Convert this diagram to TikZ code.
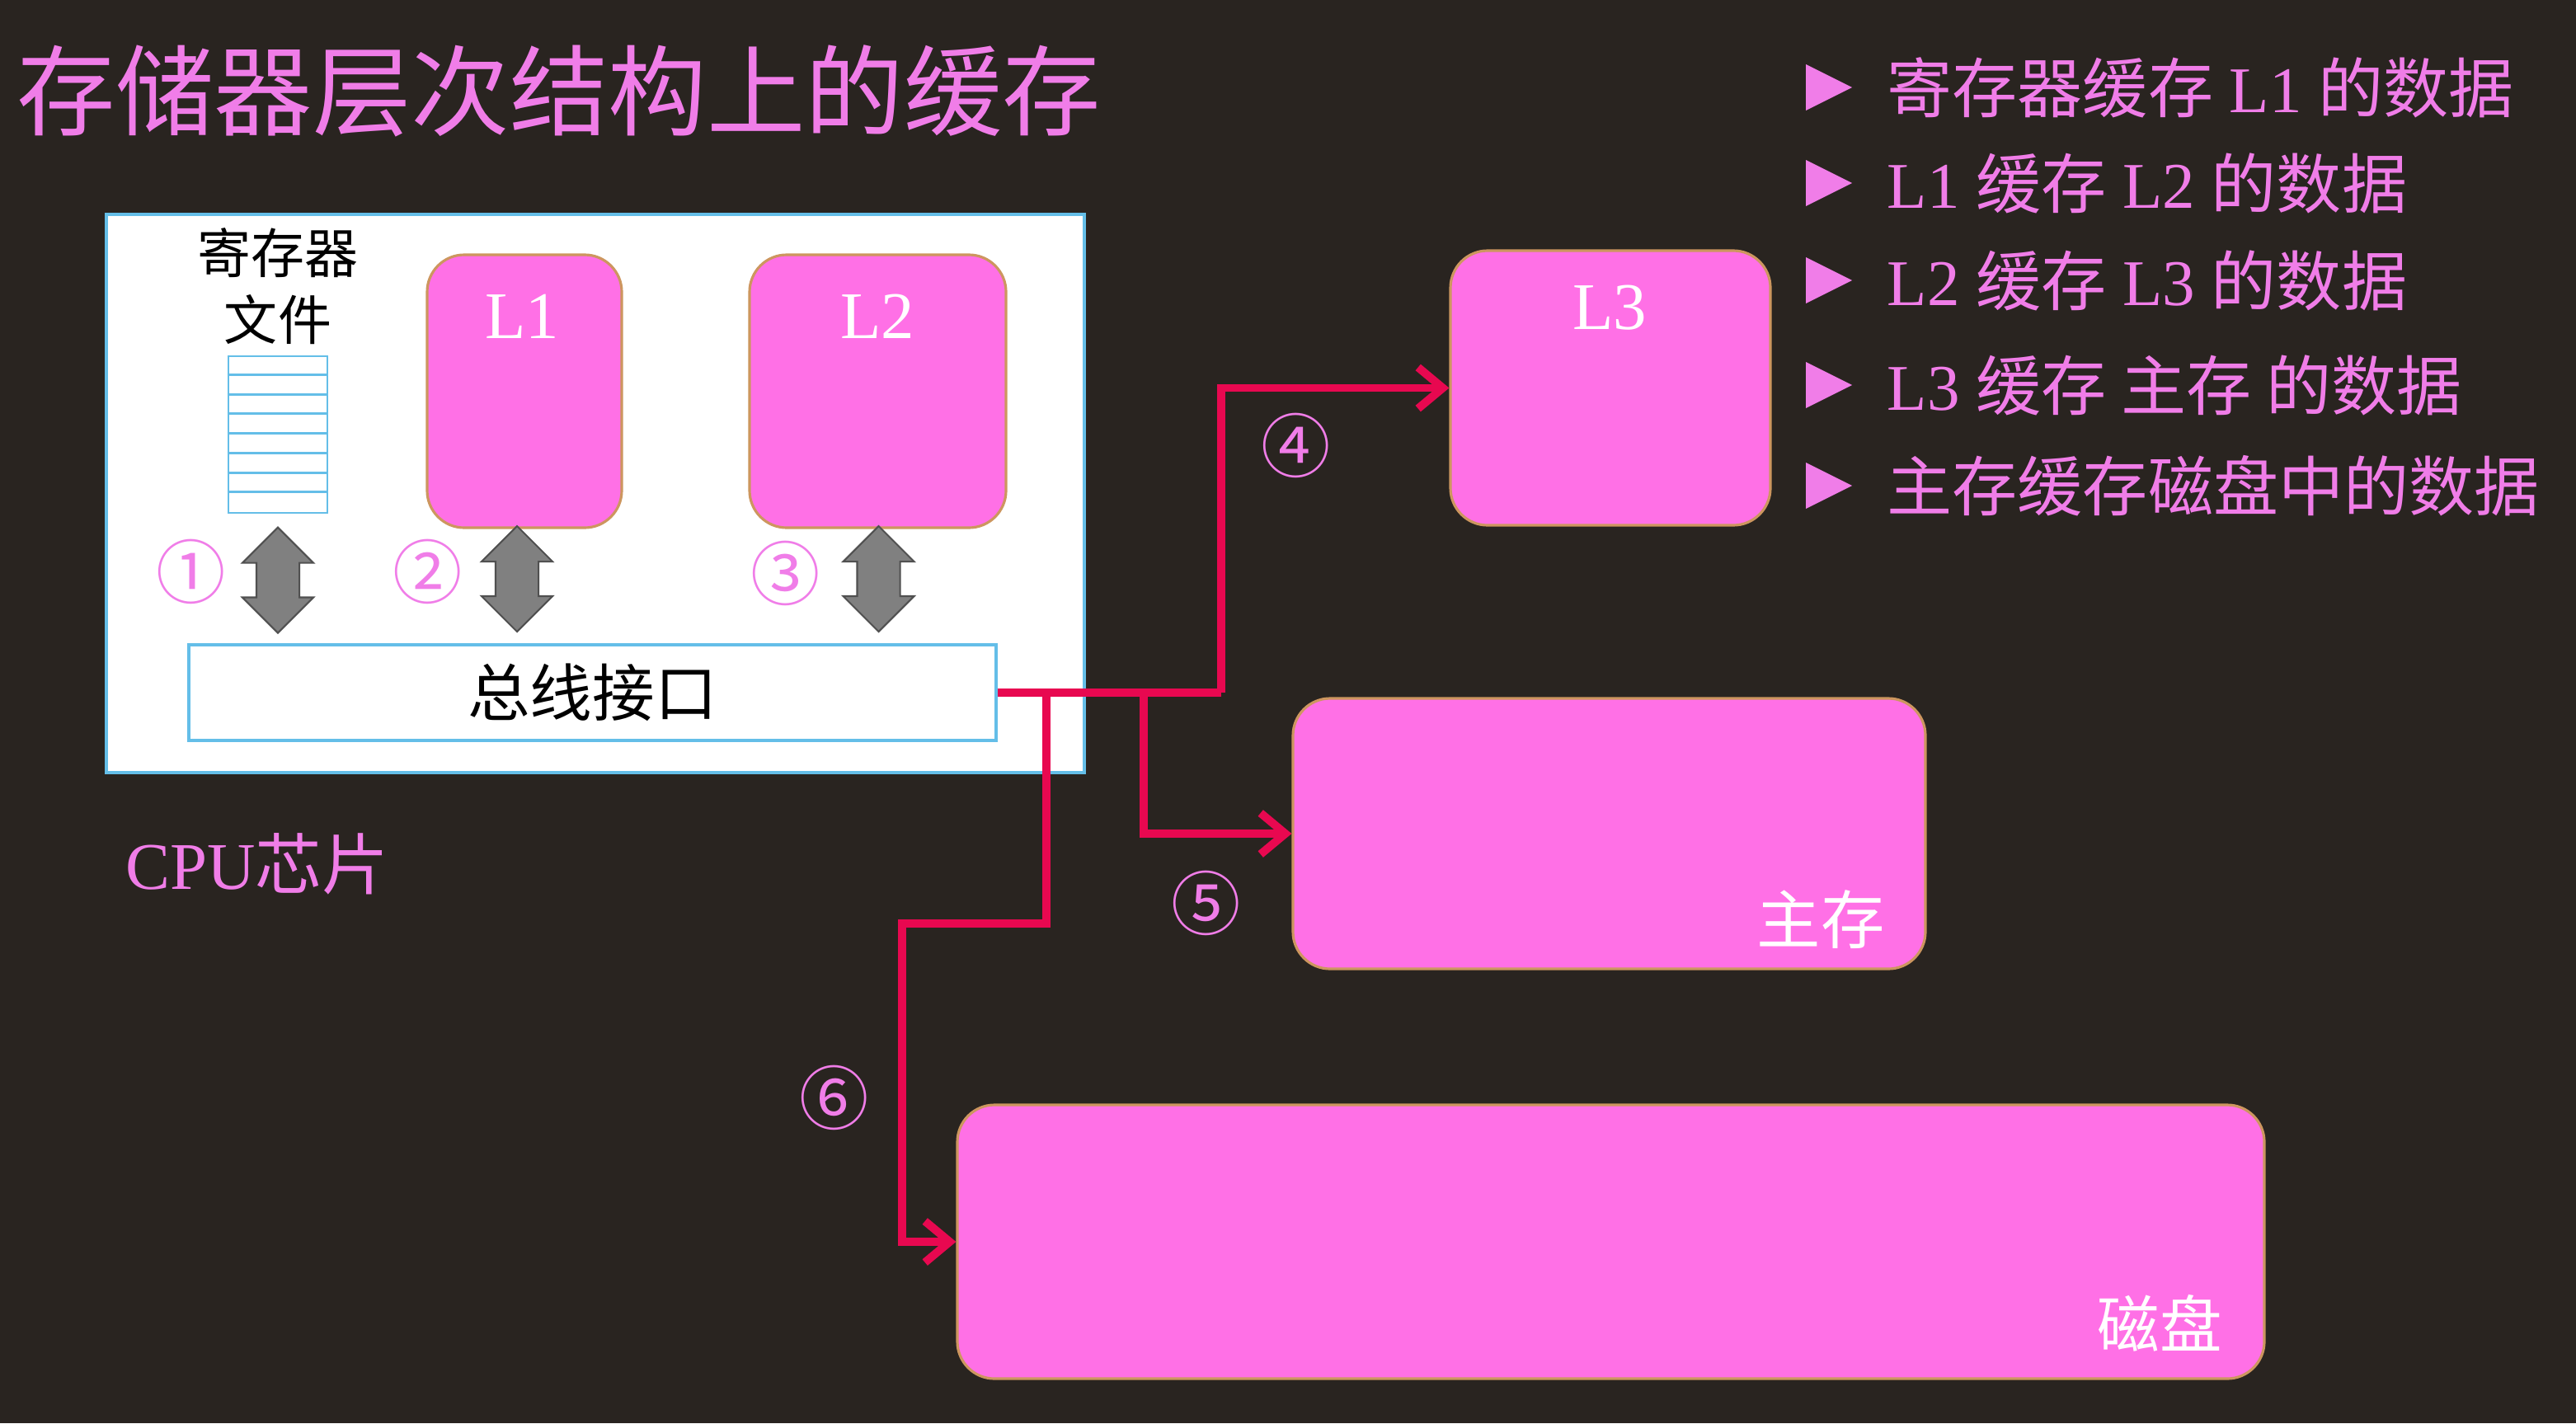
\documentclass[tikz,border=0pt]{standalone}
\usepackage{fontspec}
\setmainfont{Liberation Serif}
\newfontfamily\cjk{Noto Sans CJK SC}
\usetikzlibrary{arrows.meta,shapes.arrows}

\definecolor{bgdark}{RGB}{41,36,32}
\definecolor{titlepink}{RGB}{240,125,232}
\definecolor{cachefill}{RGB}{255,112,230}
\definecolor{cacheedge}{RGB}{205,150,95}
\definecolor{lineblue}{RGB}{100,190,232}
\definecolor{linkred}{RGB}{232,8,80}
\definecolor{arrowgray}{RGB}{128,128,128}
\definecolor{arrowedge}{RGB}{80,80,80}

\begin{document}
\begin{tikzpicture}[x=1cm,y=1cm,>={Straight Barb[length=0.3cm,width=0.5cm]},
    every node/.style={inner sep=0pt},
    cache/.style={draw=cacheedge, line width=0.9pt, fill=cachefill, rounded corners=0.45cm},
    bluebox/.style={draw=lineblue, line width=1pt, fill=white},
    busarrow/.style={double arrow, draw=arrowedge, fill=arrowgray, line width=0.6pt, rotate=90,
        inner xsep=0pt, inner ysep=0.25cm, minimum height=1.28cm, double arrow head extend=0.17cm},
    link/.style={draw=linkred, line width=2.8pt},
    circnum/.style={text=titlepink, font=\cjk\fontsize{24}{24}\selectfont},
    boxlabel/.style={text=white, font=\fontsize{23}{23}\selectfont},
    listitem/.style={anchor=west, text=titlepink, font=\fontsize{22.5}{26}\selectfont}]
                % 背景与标题
                \path[use as bounding box, fill=bgdark] (0,0) rectangle (31.24,-17.26);
                \node[anchor=west, text=titlepink, font=\cjk\fontsize{34}{40}\selectfont] (title) at (0.2,-1.10) {存储器层次结构上的缓存};

                % CPU 芯片
                \node[bluebox, minimum width=11.86cm, minimum height=6.77cm] (cpu) at (7.22,-5.985) {};
                \node[text=titlepink, font=\fontsize{23}{23}\selectfont] (cpulabel) at (3.12,-10.48) {CPU{\cjk 芯片}};

                % 寄存器文件
                \node[align=center, font=\cjk\fontsize{18.5}{23}\selectfont] (reglabel) at (3.37,-3.47) {寄存器\\文件};
                \node[draw=lineblue, line width=0.8pt, minimum width=1.2cm, minimum height=1.9cm] (regs) at (3.37,-5.27) {};
                \foreach \i in {1,...,7}
                    \draw[lineblue, line width=0.8pt] ([yshift=-\i*0.2375cm]regs.north west) -- ([yshift=-\i*0.2375cm]regs.north east);

                % L1 和 L2
                \node[cache, minimum width=2.36cm, minimum height=3.31cm] (l1) at (6.36,-4.745) {};
                \node[boxlabel] (l1txt) at (6.33,-3.84) {L1};
                \node[cache, minimum width=3.11cm, minimum height=3.31cm] (l2) at (10.645,-4.745) {};
                \node[boxlabel] (l2txt) at (10.64,-3.84) {L2};

                % 总线接口
                \node[bluebox, minimum width=9.79cm, minimum height=1.16cm, font=\cjk\fontsize{21.5}{21.5}\selectfont] (bus) at (7.185,-8.40) {总线接口};

                % 双向箭头与编号
                \node[busarrow] (a1) at (3.37,-7.035) {};
                \node[busarrow] (a2) at (6.27,-7.02) {};
                \node[busarrow] (a3) at (10.655,-7.02) {};
                \node[circnum] (n1) at (2.32,-6.93) {①};
                \node[circnum] (n2) at (5.19,-6.93) {②};
                \node[circnum] (n3) at (9.53,-6.95) {③};

                % L3、主存、磁盘
                \node[cache, minimum width=3.88cm, minimum height=3.33cm] (l3) at (19.53,-4.705) {};
                \node[boxlabel] (l3txt) at (19.52,-3.73) {L3};
                \node[cache, minimum width=7.67cm, minimum height=3.28cm] (mem) at (19.515,-10.11) {};
                \node[text=white, font=\cjk\fontsize{22}{22}\selectfont] (memtxt) at (22.08,-11.15) {主存};
                \node[cache, minimum width=15.85cm, minimum height=3.32cm] (disk) at (19.535,-15.06) {};
                \node[text=white, font=\cjk\fontsize{21.5}{21.5}\selectfont] (disktxt) at (26.19,-16.05) {磁盘};

                % 连线的分叉点
                \coordinate (j6) at (12.69,-8.40);
                \coordinate (j5) at (13.87,-8.40);
                \coordinate (j4) at (14.81,-8.40);
                \coordinate (c6) at (10.94,-11.20);

                % 连线
                \draw[link] (bus.east) -- (j4);
                \draw[link,->] (j4) |- (l3.west);
                \draw[link,->] (j5) |- (mem.west);
                \draw[link,->] (j6) |- (c6) |- (disk.west);
                \node[circnum] (n4) at (15.72,-5.40) {④};
                \node[circnum] (n5) at (14.63,-10.95) {⑤};
                \node[circnum] (n6) at (10.12,-13.31) {⑥};

                % 右侧说明
                \foreach \y/\txt [count=\i] in {1.06/{{\cjk 寄存器缓存} L1 {\cjk 的数据}},
                        2.22/{L1 {\cjk 缓存} L2 {\cjk 的数据}},
                        3.40/{L2 {\cjk 缓存} L3 {\cjk 的数据}},
                        4.67/{L3 {\cjk 缓存 主存 的数据}},
                        5.89/{{\cjk 主存缓存磁盘中的数据}}} {
                    \fill[titlepink] (21.90,-\y+0.28) -- ++(0.56,-0.28) -- ++(-0.56,-0.28) -- cycle;
                    \node[listitem] (item\i) at (22.88,-\y) {\txt};
                }
            \end{tikzpicture}
\end{document}
